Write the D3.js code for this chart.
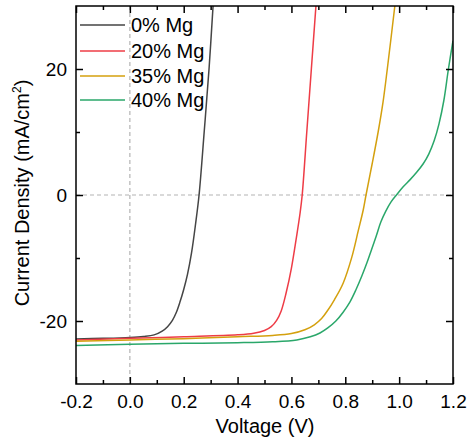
<!DOCTYPE html>
<html><head><meta charset="utf-8">
<script src="https://cdn.jsdelivr.net/npm/d3@7"></script>
<style>body{margin:0;background:#fff;} svg{display:block;font-family:"Liberation Sans",Arial,sans-serif;}</style>
</head><body>
<svg id="chart" width="470" height="439"></svg>
<script>
const seriesNames = ["0% Mg", "20% Mg", "35% Mg", "40% Mg"];
const seriesColors = ["#454545", "#ee3c46", "#d4a00e", "#2aa76a"];

const v0 = [-0.2, -0.1, 0.0, 0.05, 0.09, 0.12, 0.14, 0.158, 0.172, 0.186, 0.2, 0.214, 0.229, 0.244, 0.257, 0.276, 0.294, 0.309];
const j0 = [-22.85, -22.75, -22.6, -22.45, -22.2, -21.6, -20.9, -19.9, -18.7, -17.0, -15.0, -12.6, -9.2, -4.6, 0, 10, 20, 30];

const v20 = [-0.2, 0.0, 0.2, 0.4, 0.46, 0.5, 0.525, 0.545, 0.562, 0.58, 0.6, 0.619, 0.632, 0.64, 0.657, 0.674, 0.691];
const j20 = [-23.0, -22.75, -22.5, -22.2, -21.95, -21.5, -20.9, -19.9, -18.4, -15.6, -11.6, -6.6, -2.9, 0, 10, 20, 30];

const v35 = [-0.2, 0.0, 0.2, 0.4, 0.53, 0.6, 0.65, 0.685, 0.712, 0.735, 0.76, 0.792, 0.824, 0.848, 0.867, 0.877, 0.9, 0.922, 0.94, 0.956, 0.984];
const j35 = [-23.2, -23.0, -22.8, -22.5, -22.3, -22.0, -21.4, -20.6, -19.6, -18.3, -16.6, -14.0, -9.9, -5.7, -2.3, 0, 5.0, 10, 14.7, 20, 30];

const v40 = [-0.2, 0.0, 0.2, 0.4, 0.53, 0.62, 0.67, 0.706, 0.735, 0.765, 0.792, 0.817, 0.84, 0.861, 0.88, 0.898, 0.915, 0.932, 0.95, 0.97, 0.99, 1.015, 1.04, 1.065, 1.09, 1.11, 1.13, 1.148, 1.166, 1.183, 1.2];
const j40 = [-23.9, -23.7, -23.55, -23.45, -23.3, -23.0, -22.5, -21.9, -21.1, -20.0, -18.6, -17.0, -15.0, -12.9, -10.8, -8.6, -6.5, -4.3, -2.6, -1.1, 0, 1.3, 2.4, 3.6, 5.0, 6.5, 8.6, 11.3, 15.0, 20, 24.5];

const xTicks = [-0.2, 0.0, 0.2, 0.4, 0.6, 0.8, 1.0, 1.2];
const xMinor = [-0.1, 0.1, 0.3, 0.5, 0.7, 0.9, 1.1];
const yTicks = [-20, 0, 20];
const yMinor = [-10, 10];

const voltages = [v0, v20, v35, v40];
const currents = [j0, j20, j35, j40];

const L = 76, R = 453, T = 6, B = 384;
const svg = d3.select("#chart");
const x = d3.scaleLinear().domain([-0.2, 1.2]).range([L, R]);
const y = d3.scaleLinear().domain([-30, 30]).range([B, T]);

svg.append("defs").append("clipPath").attr("id", "clip")
  .append("rect").attr("x", L).attr("y", T).attr("width", R - L).attr("height", B - T);

// dashed zero lines
svg.append("line").attr("x1", L).attr("x2", R).attr("y1", y(0)).attr("y2", y(0))
  .attr("stroke", "#b4b4b4").attr("stroke-width", 1.2).attr("stroke-dasharray", "4,3");
svg.append("line").attr("x1", x(0)).attr("x2", x(0)).attr("y1", T).attr("y2", B)
  .attr("stroke", "#b4b4b4").attr("stroke-width", 1.2).attr("stroke-dasharray", "4,3");

// curves
const line = d3.line().x(d => x(d[0])).y(d => y(d[1])).curve(d3.curveCatmullRom.alpha(0.5));
const g = svg.append("g").attr("clip-path", "url(#clip)");
voltages.forEach((vs, i) => {
  const pts = vs.map((v, k) => [v, currents[i][k]]);
  g.append("path").datum(pts).attr("d", line).attr("fill", "none")
    .attr("stroke", seriesColors[i]).attr("stroke-width", 1.5);
});

const hy = f => d => f(d).replace("\u2212", "-");

// axes with inward ticks
const fs = "19px";
const axB = svg.append("g").attr("transform", `translate(0,${B})`)
  .call(d3.axisBottom(x).tickValues(xTicks).tickSizeInner(-7).tickSizeOuter(0).tickPadding(11).tickFormat(hy(d3.format(".1f"))));
axB.selectAll("text").attr("font-size", fs).attr("fill", "#000").attr("font-family", "Liberation Sans, Arial, sans-serif");
const axBm = svg.append("g").attr("transform", `translate(0,${B})`)
  .call(d3.axisBottom(x).tickValues(xMinor).tickSizeInner(-4).tickSizeOuter(0).tickFormat(""));
const axT = svg.append("g").attr("transform", `translate(0,${T})`)
  .call(d3.axisTop(x).tickValues(xTicks).tickSizeInner(-7).tickSizeOuter(0).tickFormat(""));
const axTm = svg.append("g").attr("transform", `translate(0,${T})`)
  .call(d3.axisTop(x).tickValues(xMinor).tickSizeInner(-4).tickSizeOuter(0).tickFormat(""));
const axL = svg.append("g").attr("transform", `translate(${L},0)`)
  .call(d3.axisLeft(y).tickValues(yTicks).tickSizeInner(-7).tickSizeOuter(0).tickPadding(9).tickFormat(hy(d3.format("d"))));
axL.selectAll("text").attr("font-size", fs).attr("fill", "#000").attr("font-family", "Liberation Sans, Arial, sans-serif");
const axLm = svg.append("g").attr("transform", `translate(${L},0)`)
  .call(d3.axisLeft(y).tickValues(yMinor).tickSizeInner(-4).tickSizeOuter(0).tickFormat(""));
const axR = svg.append("g").attr("transform", `translate(${R},0)`)
  .call(d3.axisRight(y).tickValues(yTicks).tickSizeInner(-7).tickSizeOuter(0).tickFormat(""));
const axRm = svg.append("g").attr("transform", `translate(${R},0)`)
  .call(d3.axisRight(y).tickValues(yMinor).tickSizeInner(-4).tickSizeOuter(0).tickFormat(""));
[axB, axBm, axT, axTm, axL, axLm, axR, axRm].forEach(a => {
  a.select(".domain").remove();
  a.selectAll(".tick line").attr("stroke", "#000").attr("stroke-width", 1.5);
});

// frame
svg.append("rect").attr("x", L).attr("y", T).attr("width", R - L).attr("height", B - T)
  .attr("fill", "none").attr("stroke", "#000").attr("stroke-width", 1.5);

// axis titles
svg.append("text").attr("x", 265).attr("y", 433).attr("text-anchor", "middle")
  .attr("font-size", "20px").attr("fill", "#000").text("Voltage (V)");
const yt = svg.append("text").attr("transform", `translate(29,193) rotate(-90)`)
  .attr("text-anchor", "middle").attr("font-size", "20px").attr("fill", "#000");
yt.append("tspan").text("Current Density (mA/cm");
yt.append("tspan").attr("font-size", "12px").attr("dy", "-8").text("2");
yt.append("tspan").attr("dy", "8").text(")");

// legend
const legY = [25, 51, 76, 100];
seriesNames.forEach((n, i) => {
  svg.append("line").attr("x1", 80).attr("x2", 125).attr("y1", legY[i]).attr("y2", legY[i])
    .attr("stroke", seriesColors[i]).attr("stroke-width", 1.5);
  svg.append("text").attr("x", 131).attr("y", legY[i]).attr("dy", "0.35em")
    .attr("font-size", "20px").attr("fill", "#000").text(n);
});
</script>
</body></html>
